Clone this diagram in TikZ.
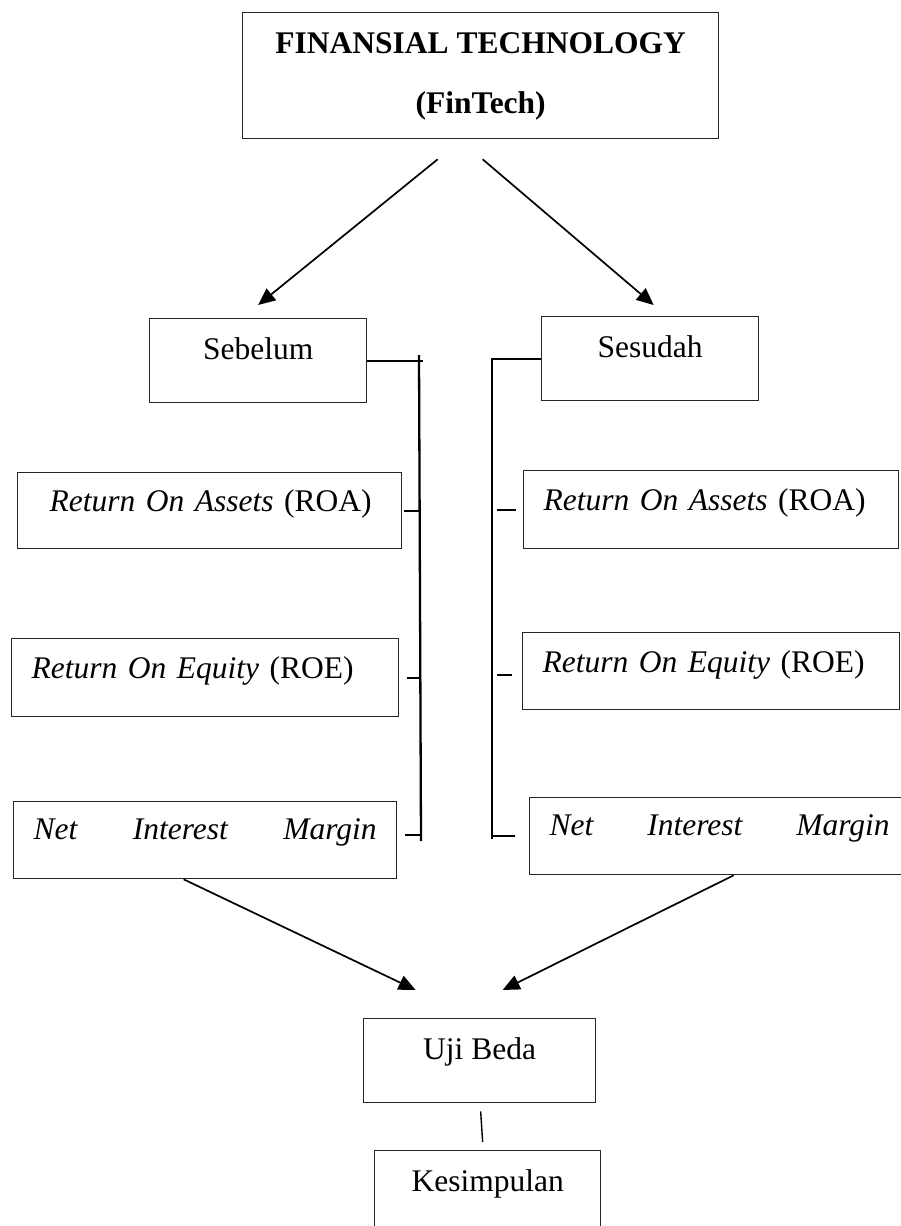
\documentclass[tikz,border=0pt]{standalone}
\usepackage{fontspec}
\setmainfont{Liberation Serif}
\usetikzlibrary{arrows.meta}

\begin{document}
\begin{tikzpicture}[x=1pt, y=-1pt,
    box/.style={draw=black!85, line width=1.3pt, anchor=north west, inner ysep=0pt,
      font=\fontsize{31.5}{38}\selectfont},
    lbox/.style={box, align=left, inner xsep=20pt},
    arrow/.style={line width=1.7pt, -{Triangle[length=17pt,width=15pt]}},
    spine/.style={line width=2.3pt},
    stub/.style={line width=1.9pt}]
  \useasboundingbox (0,0) rectangle (901,1226);
  \node[box, minimum width=476pt, text height=101pt, text depth=25pt, align=center,
    font=\fontsize{31.5}{38}\selectfont\bfseries] (ft) at (242,12) {FINANSIAL TECHNOLOGY\\[22pt](FinTech)};
  \node[box, minimum width=217pt, text height=41pt, text depth=43pt] (sb) at (149,318) {Sebelum};
  \node[box, minimum width=217pt, text height=41pt, text depth=43pt] (sd) at (541,316) {Sesudah};
  \node[lbox, inner xsep=32pt, text width=320pt, text height=39pt, text depth=37pt] (roa1) at (17,472) {\hbox to\hsize{\textit{Return On Assets} (ROA)\hss}};
  \node[lbox, text width=347pt, text height=40pt, text depth=38pt] (roe1) at (11,638) {\hbox to\hsize{\textit{Return On Equity} (ROE)\hss}};
  \node[lbox, text width=343pt, text height=38pt, text depth=39pt] (nim1) at (13,801) {\hbox to\hsize{\itshape Net\hfill Interest\hfill Margin}};
  \node[lbox, text width=335pt, text height=40pt, text depth=38pt] (roa2) at (523,470) {\hbox to\hsize{\textit{Return On Assets} (ROA)\hss}};
  \node[lbox, text width=337pt, text height=40pt, text depth=37pt] (roe2) at (522,632) {\hbox to\hsize{\textit{Return On Equity} (ROE)\hss}};
  \node[lbox, text width=340pt, text height=38pt, text depth=39pt] (nim2) at (529,797) {\hbox to\hsize{\itshape Net\hfill Interest\hfill Margin}};
  \node[box, minimum width=232pt, text height=41pt, text depth=43pt] (uji) at (363,1018) {Uji Beda};
  \node[box, minimum width=226pt, text height=41pt, text depth=43pt] (ks) at (374,1150) {Kesimpulan};

  \coordinate (l1) at (419,355);
  \coordinate (l2) at (421,841);
  \coordinate (r1) at (492,358);
  \coordinate (r2) at (492,839);

  \draw[arrow] ([xshift=-43pt,yshift=-20pt]ft.south) -- ([yshift=13pt]sb.north);
  \draw[arrow] ([xshift=2pt,yshift=-20pt]ft.south) -- ([xshift=3.5pt,yshift=11pt]sd.north);

  \draw[stub] (sb.east) -- ++(56,0);
  \draw[spine] (l1) -- (l2);
  \draw[stub] ([xshift=2pt]roa1.east) -- (roa1.east -| l1);
  \draw[stub] ([xshift=8pt]roe1.east) -- (roe1.east -| l1);
  \draw[stub] ([xshift=8pt,yshift=5pt]nim1.east) -- ([yshift=5pt]nim1.east -| l2);

  \draw[spine] (sd.west) -- (sd.west -| r1) -- (r2);
  \draw[stub] ([xshift=-7pt]roa2.west) -- ++(-19,0);
  \draw[stub] ([xshift=-10pt,yshift=-4pt]roe2.west) -- ++(-15,0);
  \draw[stub] ([xshift=-14pt]nim2.west) -- ++(-22,0);

  \draw[arrow] ([xshift=-21.5pt]nim1.south) -- ([xshift=-64pt,yshift=28pt]uji.north);
  \draw[arrow] ([xshift=14pt]nim2.south) -- ([xshift=23pt,yshift=28pt]uji.north);
  \draw[line width=1.4pt] ([xshift=1pt,yshift=-8pt]uji.south) -- ([xshift=-5pt,yshift=8pt]ks.north);
\end{tikzpicture}
\end{document}
